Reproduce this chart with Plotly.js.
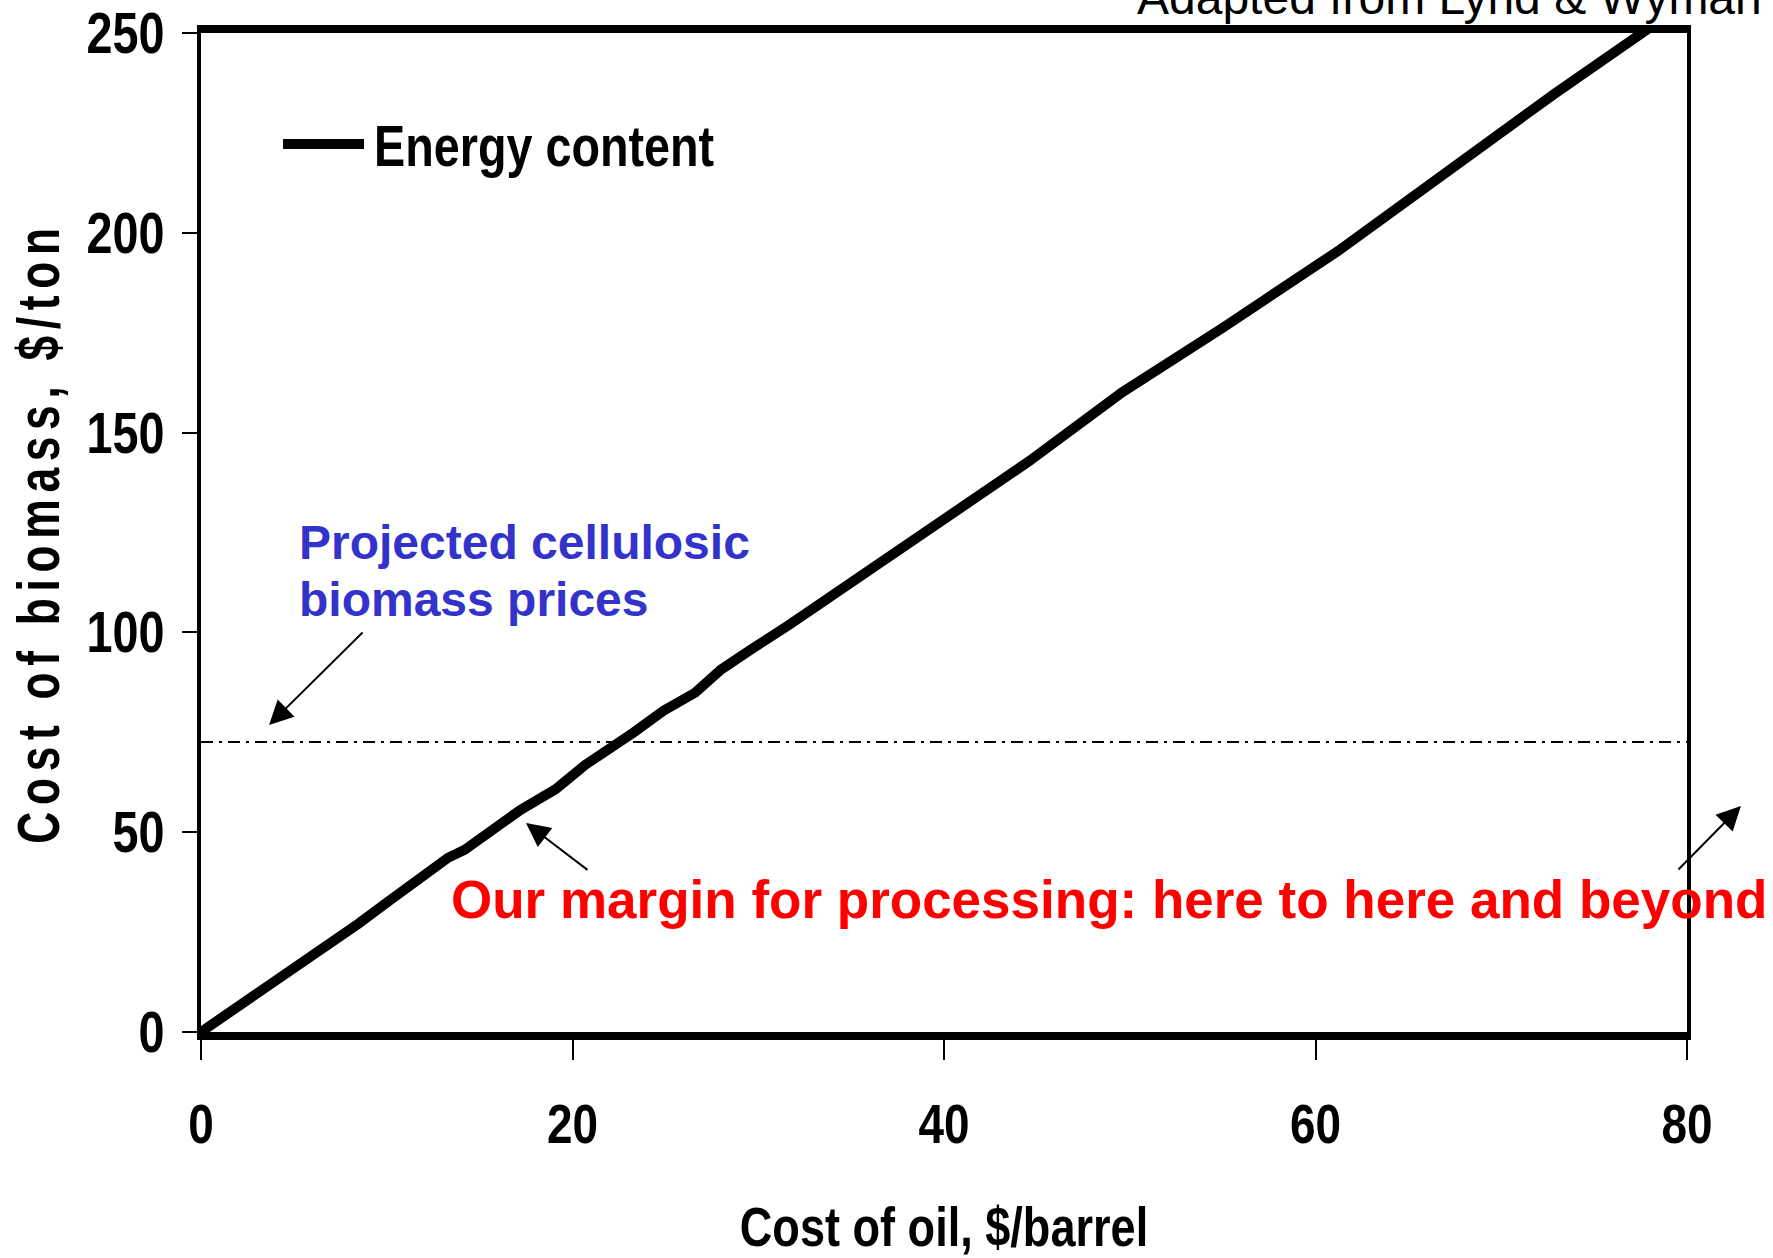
<!DOCTYPE html>
<html>
<head>
<meta charset="utf-8">
<script src="https://cdn.plot.ly/plotly-3.0.1.min.js"></script>
<style>html,body{margin:0;padding:0;background:#fff;}#chart{width:1773px;height:1258px;}</style>
</head>
<body>
<div id="chart"></div>
<script>
// Data
const oilCost = [0, 6.8, 8.5, 10.1, 11.5, 13.3, 14.2, 15.4, 17.2, 19.1, 20.7, 23.3, 24.9, 26.6, 28.0, 29.7, 31.7, 44.6, 49.6, 55.0, 61.2, 72.9, 78.2];
const biomassCost = [0, 21.5, 27.2, 32.7, 37.3, 43.6, 45.6, 49.6, 55.6, 60.8, 66.9, 75.0, 80.4, 84.9, 90.7, 96.0, 102.0, 142.9, 160.1, 176.2, 195.4, 234.9, 252];
const projectedRange = [0, 80];
const projectedPrice = [72.6, 72.6];
const xTickVals = [0, 20, 40, 60, 80];
const yTickVals = [0, 50, 100, 150, 200, 250];
const seriesName = 'Energy content';

const sans = '"Liberation Sans", Arial, sans-serif';
const NARROW = 0.82;   // horizontal squeeze to imitate Arial Narrow Bold

const traces = [
  {
    x: projectedRange, y: projectedPrice, type: 'scatter', mode: 'lines',
    line: {color: '#000', width: 2, dash: '12px,6px,3px,6px'},
    showlegend: false, hoverinfo: 'skip'
  },
  {
    x: oilCost, y: biomassCost, type: 'scatter', mode: 'lines', name: seriesName,
    line: {color: '#000', width: 10}, showlegend: false
  }
];

const layout = {
  width: 1773, height: 1258,
  margin: {l: 201, r: 86, t: 33, b: 226},
  paper_bgcolor: '#fff', plot_bgcolor: '#fff',
  showlegend: false,
  xaxis: {
    range: [0, 80], tickvals: xTickVals, ticktext: xTickVals.map(String),
    ticks: 'outside', ticklen: 20, tickwidth: 2, tickcolor: '#000',
    showline: true, linewidth: 8, linecolor: '#000', mirror: true,
    showgrid: false, zeroline: false, ticklabeloverflow: 'allow',
    tickfont: {family: sans, size: 56, color: '#000', weight: 'bold'},
    ticklabelstandoff: 16,
    title: {text: 'Cost of oil, $/barrel', standoff: 67,
            font: {family: sans, size: 55, color: '#000', weight: 'bold'}}
  },
  yaxis: {
    range: [0, 250], tickvals: yTickVals, ticktext: yTickVals.map(String),
    ticks: 'outside', ticklen: 15, tickwidth: 2, tickcolor: '#000',
    showline: true, linewidth: 4, linecolor: '#000', mirror: true,
    showgrid: false, zeroline: false, ticklabeloverflow: 'allow',
    tickfont: {family: sans, size: 57, color: '#000', weight: 'bold'},
    ticklabelstandoff: 6,
    title: {text: 'Cost of biomass, $/ton', standoff: 20,
            font: {family: sans, size: 60, color: '#000', weight: 'bold'}}
  },
  shapes: [
    {type: 'line', xref: 'paper', yref: 'paper', x0: 0.0552, x1: 0.1097, y0: 0.8889, y1: 0.8889,
     line: {color: '#000', width: 10}}
  ],
  annotations: [
    {xref: 'paper', yref: 'paper', x: 0.115, y: 0.8869, xanchor: 'left', yanchor: 'middle',
     text: seriesName, showarrow: false,
     font: {family: sans, size: 57, color: '#000', weight: 'bold'}},
    {xref: 'paper', yref: 'paper', x: 1.0520, y: 1.036, xanchor: 'right', yanchor: 'middle',
     text: 'Adapted from Lynd &amp; Wyman', showarrow: false,
     font: {family: sans, size: 48, color: '#000'}},
    {xref: 'paper', yref: 'paper', x: 0.0646, y: 0.4895, xanchor: 'left', yanchor: 'middle',
     text: 'Projected cellulosic', showarrow: false,
     font: {family: sans, size: 48, color: '#3333CC', weight: 'bold'}},
    {xref: 'paper', yref: 'paper', x: 0.0646, y: 0.4334, xanchor: 'left', yanchor: 'middle',
     text: 'biomass prices', showarrow: false,
     font: {family: sans, size: 48, color: '#3333CC', weight: 'bold'}},
    {xref: 'paper', yref: 'paper', x: 0.1669, y: 0.1331, xanchor: 'left', yanchor: 'middle',
     text: 'Our margin for processing: here to here and beyond', showarrow: false,
     font: {family: sans, size: 53, color: '#FF0000', weight: 'bold'}},
    // arrows
    {xref: 'paper', yref: 'paper', x: 0.0458, y: 0.3073, ax: 95, ay: -94, text: '',
     showarrow: true, arrowhead: 2, arrowsize: 2.4, arrowwidth: 2, arrowcolor: '#000'},
    {xref: 'paper', yref: 'paper', x: 0.2187, y: 0.2092, ax: 63, ay: 48, text: '',
     showarrow: true, arrowhead: 2, arrowsize: 2.4, arrowwidth: 2, arrowcolor: '#000'},
    {xref: 'paper', yref: 'paper', x: 1.0363, y: 0.2262, ax: -64, ay: 65, text: '',
     showarrow: true, arrowhead: 2, arrowsize: 2.4, arrowwidth: 2, arrowcolor: '#000'}
  ]
};

function squeeze(el, sx, anchor) {
  if (!el) return;
  const bb = el.getBBox();
  const cx = anchor === 'start' ? bb.x : (anchor === 'end' ? bb.x + bb.width : bb.x + bb.width / 2);
  const cy = bb.y + bb.height / 2;
  const t = el.getAttribute('transform') || '';
  el.setAttribute('transform', (t + ' translate(' + cx + ',' + cy + ') scale(' + sx + ',1) translate(' + (-cx) + ',' + (-cy) + ')').trim());
}

Plotly.newPlot('chart', traces, layout, {displayModeBar: false, staticPlot: true}).then(function () {
  document.querySelectorAll('.xtick text').forEach(function (el) { squeeze(el, NARROW, 'middle'); });
  document.querySelectorAll('.ytick text').forEach(function (el) { squeeze(el, NARROW, 'end'); });
  squeeze(document.querySelector('.g-xtitle text'), NARROW, 'middle');
  const legendText = document.querySelector('.annotation[data-index="0"] text');
  squeeze(legendText, NARROW, 'start');
  const ytg = document.querySelector('.g-ytitle');
  const yt = ytg ? ytg.querySelector('text') : null;
  if (yt) {
    yt.style.letterSpacing = '9px';
    squeeze(yt, 0.74, 'middle');
    const prev = ytg.getAttribute('transform') || '';
    ytg.setAttribute('transform', (prev + ' translate(5,0)').trim());
  }
});
</script>
</body>
</html>
